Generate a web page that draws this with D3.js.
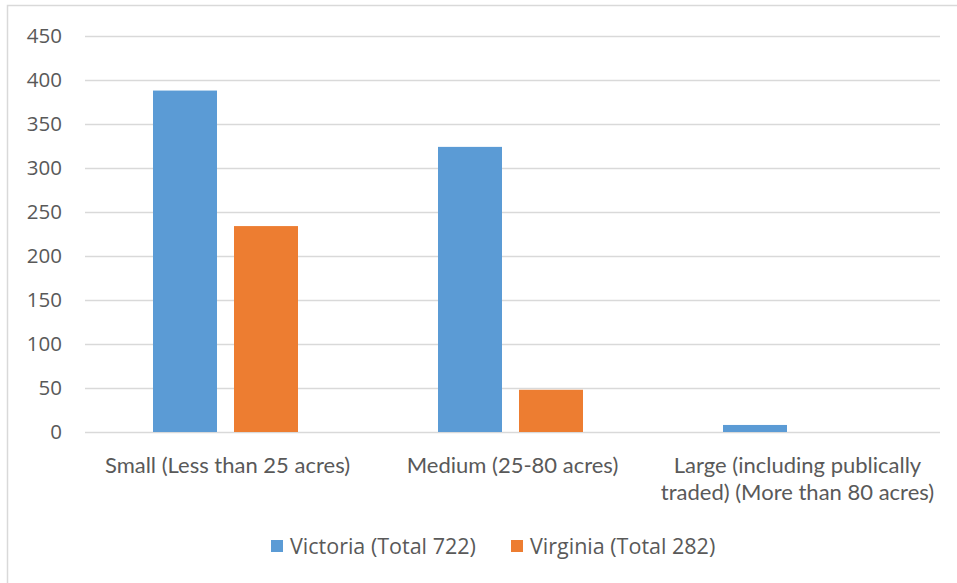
<!DOCTYPE html>
<html>
<head>
<meta charset="utf-8">
<script src="https://cdn.jsdelivr.net/npm/d3@7"></script>
<style>
  body { margin: 0; background: #fff; }
  svg text { font-family: Lato, "Open Sans", sans-serif; fill: #595959; }
</style>
</head>
<body>
<svg id="chart" width="957" height="583"></svg>
<script>
// data
var categories = ["Small (Less than 25 acres)", "Medium (25-80 acres)", "Large (including publically traded) (More than 80 acres)"];
var catLines = [["Small (Less than 25 acres)"], ["Medium (25-80 acres)"], ["Large (including publically", "traded) (More than 80 acres)"]];
var series = ["Victoria (Total 722)", "Virginia (Total 282)"];
var victoria = [388, 324, 8];
var virginia = [234, 48, 0];
var yTicks = [0, 50, 100, 150, 200, 250, 300, 350, 400, 450];
var colors = ["#5b9bd5", "#ed7d31"];

var svg = d3.select("#chart");

// outer chart border (only top & left are in view)
svg.append("rect")
  .attr("x", 7.5).attr("y", 5.5)
  .attr("width", 1000).attr("height", 1000)
  .attr("fill", "none").attr("stroke", "#d9d9d9").attr("stroke-width", 1.5);

var plotL = 85, plotR = 940, plotT = 36, plotB = 432;

var y = d3.scaleLinear().domain([0, 450]).range([plotB, plotT]);
var x0 = d3.scaleBand().domain(categories).range([plotL, plotR]).paddingInner(0).paddingOuter(0);
var x1 = d3.scaleBand().domain(series).range([68, 213]).paddingInner(0.21).paddingOuter(0);

// gridlines
svg.append("g").selectAll("line").data(yTicks).join("line")
  .attr("x1", plotL).attr("x2", plotR)
  .attr("y1", function(d){ return Math.round(y(d)) + 0.5; })
  .attr("y2", function(d){ return Math.round(y(d)) + 0.5; })
  .attr("stroke", "#d9d9d9").attr("stroke-width", 1.3);

// y labels
var yAxis = d3.axisLeft(y).tickValues(yTicks).tickSize(0).tickPadding(0);
var gy = svg.append("g").attr("transform", "translate(62,0)").call(yAxis);
gy.select(".domain").remove();
gy.selectAll("text").attr("font-size", 20.5).attr("fill", "#595959")
  .style("font-family", "'Open Sans', sans-serif");

// bars
var rows = categories.map(function(c, i){ return { cat: c, vals: [victoria[i], virginia[i]] }; });
var groups = svg.append("g").selectAll("g").data(rows).join("g")
  .attr("transform", function(d){ return "translate(" + x0(d.cat) + ",0)"; });
groups.selectAll("rect").data(function(d){ return d.vals.map(function(v, j){ return { s: series[j], v: v, j: j }; }); })
  .join("rect")
  .attr("x", function(d){ return x1(d.s); })
  .attr("width", x1.bandwidth())
  .attr("y", function(d){ return y(d.v); })
  .attr("height", function(d){ return y(0) - y(d.v); })
  .attr("fill", function(d){ return colors[d.j]; });

// x labels
var xl = svg.append("g").selectAll("text").data(categories).join("text")
  .attr("x", function(d){ return x0(d) + x0.bandwidth() / 2; })
  .attr("y", 473)
  .attr("text-anchor", "middle")
  .attr("font-size", 22);
xl.each(function(d, i){
  var t = d3.select(this);
  catLines[i].forEach(function(line, k){
    t.append("tspan").attr("x", x0(d) + x0.bandwidth() / 2).attr("dy", k === 0 ? 0 : 27).text(line);
  });
});

// legend
var legX = [271, 511];
var leg = svg.append("g").selectAll("g").data(series).join("g")
  .attr("transform", function(d, i){ return "translate(" + legX[i] + ",540)"; });
leg.append("rect").attr("width", 12).attr("height", 12)
  .attr("fill", function(d, i){ return colors[i]; });
leg.append("text").attr("x", 19).attr("y", 13.5).attr("font-size", 21.5)
  .style("font-family", "'Open Sans', sans-serif").text(function(d){ return d; });
</script>
</body>
</html>
